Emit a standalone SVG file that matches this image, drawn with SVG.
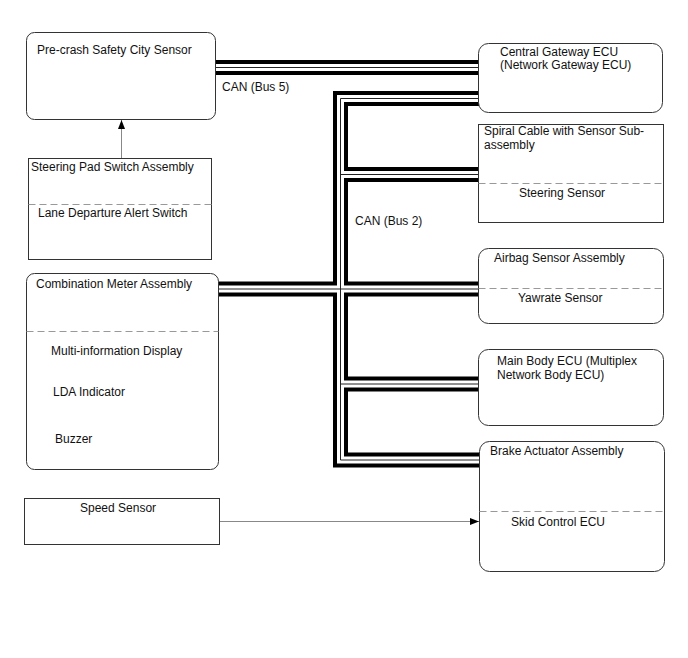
<svg xmlns="http://www.w3.org/2000/svg" width="688" height="658" viewBox="0 0 688 658">
<defs>
<marker id="arr" markerUnits="userSpaceOnUse" markerWidth="10" markerHeight="8" refX="9" refY="3.5" orient="auto">
<path d="M0,0 L9,3.5 L0,7 z" fill="#000"/>
</marker>
<style>
text{font-family:"Liberation Sans",Arial,sans-serif;font-size:12px;fill:#111}
.box{fill:#fff;stroke:#333;stroke-width:1}
.dash{stroke:#999;stroke-width:1;stroke-dasharray:7 4;fill:none}
.busB{fill:none;stroke:#000;stroke-width:15;stroke-linejoin:miter}
.busW{fill:none;stroke:#fff;stroke-width:7;stroke-linejoin:miter}
.busT{fill:none;stroke:#222;stroke-width:1}
.sig{fill:none;stroke:#888;stroke-width:1}
</style>
</defs>
<rect width="688" height="658" fill="#fff"/>
<g id="connectors">
<g class="busB">
<path d="M215,67.5 H479"/>
<path d="M479,98.5 H340.5 V460 H480"/>
<path d="M340.5,174.5 H479"/>
<path d="M218,289 H479"/>
<path d="M340.5,384 H479"/>
</g>
<g class="busW">
<path d="M215,67.5 H479"/>
<path d="M479,98.5 H340.5 V460 H480"/>
<path d="M340.5,174.5 H479"/>
<path d="M218,289 H479"/>
<path d="M340.5,384 H479"/>
</g>
<g class="busT">
<path d="M215,67.5 H479"/>
<path d="M479,98.5 H340.5 V460 H480"/>
<path d="M340.5,174.5 H479"/>
<path d="M218,289 H479"/>
<path d="M340.5,384 H479"/>
</g>
<path class="sig" d="M121.5,158 V120" marker-end="url(#arr)"/>
<path class="sig" d="M219.5,521.5 H479" marker-end="url(#arr)"/>
<text x="222" y="91">CAN (Bus 5)</text>
<text x="355" y="225">CAN (Bus 2)</text>
</g>
<g id="precrash">
<rect class="box" x="26.5" y="32.5" width="189" height="87" rx="8"/>
<text x="37" y="54">Pre-crash Safety City Sensor</text>
</g>
<g id="steeringpad">
<rect class="box" x="28.5" y="158.5" width="183" height="101"/>
<line class="dash" x1="28.5" y1="204.5" x2="211.5" y2="204.5"/>
<text x="31" y="171">Steering Pad Switch Assembly</text>
<text x="38" y="217">Lane Departure Alert Switch</text>
</g>
<g id="combimeter">
<rect class="box" x="26.5" y="273.5" width="192" height="196" rx="8"/>
<line class="dash" x1="26.5" y1="331.5" x2="218.5" y2="331.5"/>
<text x="36" y="288">Combination Meter Assembly</text>
<text x="51" y="355">Multi-information Display</text>
<text x="53" y="396">LDA Indicator</text>
<text x="55" y="443">Buzzer</text>
</g>
<g id="speedsensor">
<rect class="box" x="24.5" y="498.5" width="195" height="46"/>
<text x="80" y="512">Speed Sensor</text>
</g>
<g id="gateway">
<rect class="box" x="478.5" y="43.5" width="184" height="69" rx="10"/>
<text x="500" y="56">Central Gateway ECU</text>
<text x="500" y="69">(Network Gateway ECU)</text>
</g>
<g id="spiral">
<rect class="box" x="478.5" y="124.5" width="185" height="98"/>
<line class="dash" x1="478.5" y1="183.5" x2="663.5" y2="183.5"/>
<text x="484" y="135">Spiral Cable with Sensor Sub-</text>
<text x="484" y="149">assembly</text>
<text x="519" y="197">Steering Sensor</text>
</g>
<g id="airbag">
<rect class="box" x="478.5" y="248.5" width="185" height="75" rx="10"/>
<line class="dash" x1="478.5" y1="288.5" x2="663.5" y2="288.5"/>
<text x="494" y="262">Airbag Sensor Assembly</text>
<text x="518" y="302">Yawrate Sensor</text>
</g>
<g id="mainbody">
<rect class="box" x="478.5" y="349.5" width="185" height="76" rx="10"/>
<text x="497" y="365">Main Body ECU (Multiplex</text>
<text x="497" y="379">Network Body ECU)</text>
</g>
<g id="brake">
<rect class="box" x="479.5" y="441.5" width="185" height="130" rx="10"/>
<line class="dash" x1="479.5" y1="511.5" x2="664.5" y2="511.5"/>
<text x="490" y="455">Brake Actuator Assembly</text>
<text x="511" y="526">Skid Control ECU</text>
</g>
</svg>
